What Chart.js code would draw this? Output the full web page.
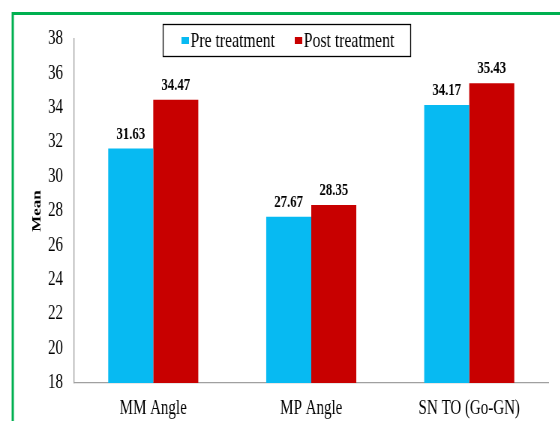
<!DOCTYPE html>
<html><head><meta charset="utf-8">
<script src="https://cdn.jsdelivr.net/npm/chart.js@4/dist/chart.umd.min.js"></script>
<style>
html,body{margin:0;padding:0;background:#fff;overflow:hidden;}
#wrap{width:560px;height:421px;position:relative;overflow:hidden;}
#c{position:absolute;left:0;top:0;width:747px;height:421px;transform:scaleX(0.75);transform-origin:0 0;}
</style>
</head><body><div id="wrap"><canvas id="c" width="747" height="421"></canvas></div>
<script>
const categories = ["MM Angle", "MP Angle", "SN TO (Go-GN)"];
const preTreatment = [31.63, 27.67, 34.17];
const postTreatment = [34.47, 28.35, 35.43];
const seriesNames = ["Pre treatment", "Post treatment"];
const yTicks = [18, 20, 22, 24, 26, 28, 30, 32, 34, 36, 38];

const FONT = "'Liberation Serif', 'Times New Roman', serif";

const decor = {
  id: 'decor',
  beforeDraw(chart) {
    const ctx = chart.ctx;
    ctx.save();
    ctx.fillStyle = '#fff';
    ctx.fillRect(0, 0, chart.width, chart.height);
    ctx.strokeStyle = '#00b050';
    ctx.lineWidth = 3;
    ctx.beginPath();
    ctx.moveTo(17, 440);
    ctx.lineTo(17, 13.5);
    ctx.lineTo(760, 13.5);
    ctx.stroke();
    ctx.restore();
  },
  afterDatasetsDraw(chart) {
    const ctx = chart.ctx;
    ctx.save();
    ctx.font = "bold 17px " + FONT;
    ctx.fillStyle = '#000';
    ctx.textAlign = 'center';
    ctx.textBaseline = 'alphabetic';
    chart.data.datasets.forEach((ds, i) => {
      chart.getDatasetMeta(i).data.forEach((bar, j) => {
        ctx.fillText(ds.data[j].toFixed(2), bar.x, bar.y - 10);
      });
    });
    // legend
    const lx = 217, ly = 24, lw = 330, lh = 32;
    ctx.fillStyle = '#fff';
    ctx.fillRect(lx, ly, lw, lh);
    ctx.strokeStyle = '#000';
    ctx.lineWidth = 1.3;
    ctx.strokeRect(lx + 0.5, ly + 0.5, lw, lh);
    ctx.font = "21px " + FONT;
    ctx.textAlign = 'left';
    ctx.textBaseline = 'middle';
    const items = [[242, chart.data.datasets[0]], [393, chart.data.datasets[1]]];
    items.forEach(([x, ds]) => {
      ctx.fillStyle = ds.backgroundColor;
      ctx.fillRect(x, ly + 13, 10, 7);
      ctx.fillStyle = '#000';
      ctx.fillText(ds.label, x + 12, ly + 17);
    });
    ctx.restore();
  }
};

new Chart(document.getElementById('c'), {
  type: 'bar',
  data: {
    labels: categories,
    datasets: [
      { label: seriesNames[0], data: preTreatment, backgroundColor: '#07baf2', borderWidth: 0 },
      { label: seriesNames[1], data: postTreatment, backgroundColor: '#c80000', borderWidth: 0 }
    ]
  },
  options: {
    responsive: false,
    animation: false,
    devicePixelRatio: 1,
    layout: { padding: { left: 0, top: 39, right: 16, bottom: 0 } },
    plugins: { legend: { display: false }, tooltip: { enabled: false } },
    datasets: { bar: { categoryPercentage: 0.57, barPercentage: 1.0 } },
    scales: {
      x: {
        grid: { display: false, drawTicks: false },
        border: { color: '#a0a0a0', width: 1.3 },
        ticks: { color: '#000', font: { family: FONT, size: 20 }, padding: 14, maxRotation: 0, autoSkip: false },
        afterFit(scale) { scale.height = 38; }
      },
      y: {
        min: 18, max: 38,
        afterBuildTicks(scale) { scale.ticks = yTicks.map(v => ({ value: v })); },
        grid: { display: false, drawOnChartArea: false, drawTicks: true, tickLength: 6, tickColor: '#a0a0a0', lineWidth: 1.3 },
        border: { color: '#a0a0a0', width: 1.3 },
        ticks: { color: '#000', font: { family: FONT, size: 20 }, padding: 9 },
        title: { display: true, text: 'Mean', color: '#000', font: { family: FONT, size: 17, weight: 'bold' }, padding: { top: 39, bottom: 0 } },
        afterFit(scale) { scale.width = 99; }
      }
    }
  },
  plugins: [decor]
});
</script></body></html>
